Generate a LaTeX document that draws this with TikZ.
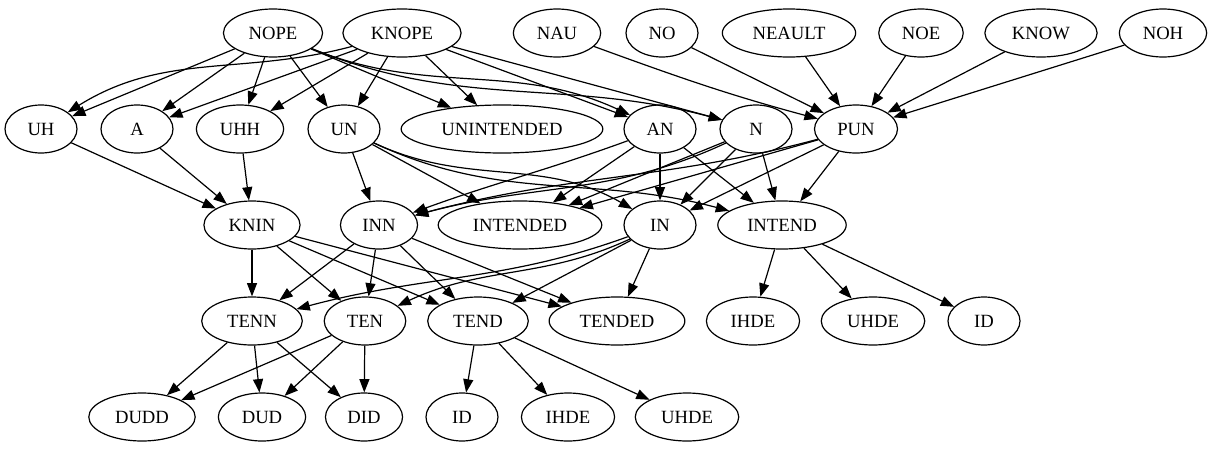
\documentclass[tikz,border=0pt]{standalone}
\usepackage{fontspec}
\setmainfont{Liberation Serif}
\usetikzlibrary{arrows.meta,shapes.geometric}

\begin{document}
\begin{tikzpicture}[
  x=0.75pt, y=0.75pt,
  >={Triangle[length=10pt,width=7.5pt]},
  word/.style={ellipse, draw=black, line width=.9pt, minimum width=54pt, minimum height=36pt, inner xsep=8pt, inner ysep=4pt, font=\fontsize{14}{16}\selectfont},
  arr/.style={->, line width=.9pt, draw=black}
]
\useasboundingbox (0,0) rectangle (1225,-450);

% spellings
\node[word] (nope)   at (273,-33)  {NOPE};
\node[word] (knope)  at (402,-33)  {KNOPE};
\node[word] (nau)    at (557,-33)  {NAU};
\node[word] (no)     at (662,-33)  {NO};
\node[word] (neault) at (789,-33)  {NEAULT};
\node[word] (noe)    at (921,-33)  {NOE};
\node[word] (know)   at (1041,-33) {KNOW};
\node[word] (noh)    at (1163,-33) {NOH};

\node[word] (uh)     at (41,-129)  {UH};
\node[word] (a)      at (137,-129) {A};
\node[word] (uhh)    at (240,-129) {UHH};
\node[word] (un)     at (344,-129) {UN};
\node[word] (unint)  at (502,-129) {UNINTENDED};
\node[word] (an)     at (660,-129) {AN};
\node[word] (n)      at (756,-129) {N};
\node[word] (pun)    at (856,-129) {PUN};

\node[word] (knin)   at (252,-225) {KNIN};
\node[word] (inn)    at (379,-225) {INN};
\node[word] (intd)   at (520,-225) {INTENDED};
\node[word] (inx)    at (660,-225) {IN};
\node[word] (intend) at (782,-225) {INTEND};

\node[word] (tenn)   at (252,-321) {TENN};
\node[word] (ten)    at (365,-321) {TEN};
\node[word] (tend)   at (478,-321) {TEND};
\node[word] (tended) at (617,-321) {TENDED};
\node[word] (ihdeA)  at (753,-321) {IHDE};
\node[word] (uhdeA)  at (873,-321) {UHDE};
\node[word] (idA)    at (984,-321) {ID};

\node[word] (dudd)   at (142,-417) {DUDD};
\node[word] (dud)    at (262,-417) {DUD};
\node[word] (did)    at (364,-417) {DID};
\node[word] (idB)    at (462,-417) {ID};
\node[word] (ihdeB)  at (568,-417) {IHDE};
\node[word] (uhdeB)  at (687,-417) {UHDE};

\draw[arr] (nope) -- (uh);
\draw[arr] (nope) -- (a);
\draw[arr] (nope) -- (uhh);
\draw[arr] (nope) -- (un);
\draw[arr] (nope) -- (unint);
\draw[arr] (nope) to[out=-22,in=155] (an);
\draw[arr] (nope) to[out=-22,in=165] (n);
\draw[arr] (knope) to[out=195,in=32] (uh);
\draw[arr] (knope) -- (a);
\draw[arr] (knope) -- (uhh);
\draw[arr] (knope) -- (un);
\draw[arr] (knope) -- (unint);
\draw[arr] (knope) -- (an);
\draw[arr] (knope) -- (n);
\draw[arr] (nau) to[out=-20,in=165] (pun);
\draw[arr] (no) -- (pun);
\draw[arr] (neault) -- (pun);
\draw[arr] (noe) -- (pun);
\draw[arr] (know) -- (pun);
\draw[arr] (noh) -- (pun);

\draw[arr] (uh) -- (knin);
\draw[arr] (a) -- (knin);
\draw[arr] (uhh) -- (knin);
\draw[arr] (un) -- (inn);
\draw[arr] (un) -- (intd);
\draw[arr] (un) to[out=-25,in=150] (inx);
\draw[arr] (un) to[out=-25,in=165] (intend);
\draw[arr] (an) to[out=200,in=20] (inn);
\draw[arr] (an) -- (intd);
\draw[arr] (an) -- (inx);
\draw[arr] (an) -- (intend);
\draw[arr] (n) to[out=205,in=15] (inn);
\draw[arr] (n) -- (intd);
\draw[arr] (n) -- (inx);
\draw[arr] (n) -- (intend);
\draw[arr] (pun) to[out=195,in=15] (inn);
\draw[arr] (pun) -- (intd);
\draw[arr] (pun) -- (inx);
\draw[arr] (pun) -- (intend);

\draw[arr] (knin) -- (tenn);
\draw[arr] (knin) -- (ten);
\draw[arr] (knin) -- (tend);
\draw[arr] (knin) -- (tended);
\draw[arr] (inn) -- (tenn);
\draw[arr] (inn) -- (ten);
\draw[arr] (inn) -- (tend);
\draw[arr] (inn) -- (tended);
\draw[arr] (inx) to[out=200,in=15] (tenn);
\draw[arr] (inx) to[out=205,in=25] (ten);
\draw[arr] (inx) -- (tend);
\draw[arr] (inx) -- (tended);
\draw[arr] (intend) -- (ihdeA);
\draw[arr] (intend) -- (uhdeA);
\draw[arr] (intend) -- (idA);

\draw[arr] (tenn) -- (dudd);
\draw[arr] (tenn) -- (dud);
\draw[arr] (tenn) -- (did);
\draw[arr] (ten) -- (dudd);
\draw[arr] (ten) -- (dud);
\draw[arr] (ten) -- (did);
\draw[arr] (tend) -- (idB);
\draw[arr] (tend) -- (ihdeB);
\draw[arr] (tend) -- (uhdeB);
\end{tikzpicture}
\end{document}
